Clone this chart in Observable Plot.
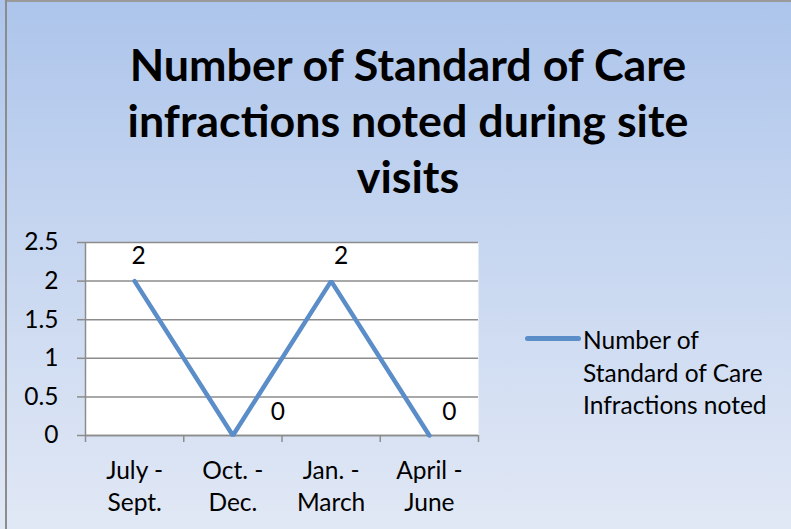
<!DOCTYPE html>
<html>
<head>
<meta charset="utf-8">
<script src="https://cdn.jsdelivr.net/npm/d3@7"></script>
<script src="https://cdn.jsdelivr.net/npm/@observablehq/plot@0.6"></script>
<style>
  html, body { margin: 0; padding: 0; }
  body { width: 791px; height: 529px; overflow: hidden; }
  #chart {
    position: relative; width: 791px; height: 529px;
    background: linear-gradient(to bottom, #adc5eb 0%, #c6d6f0 45%, #e1e8f5 100%);
    font-family: Lato, "Open Sans", sans-serif; color: #000;
  }
  #lborder { position: absolute; left: 5px; top: 0; width: 2px; height: 529px; background: #8c8c8c; }
  #tborder { position: absolute; left: 5px; top: 0; width: 786px; height: 2px; background: #9a9a9a; }
  #title {
    position: absolute; left: 25px; width: 766px; top: 36px;
    text-align: center; font-weight: 700; font-size: 44.8px; line-height: 56px;
  }
  #plotwrap { position: absolute; left: 0; top: 220px; }
  #legend { position: absolute; left: 525px; top: 324px; display: flex; align-items: flex-start; }
  #legend .sw { width: 56px; height: 4.5px; border-radius: 3px; background: #5b8dc8; margin-top: 12px; margin-right: 2px; }
  #legend .tx { font-size: 24.5px; line-height: 32.5px; }
</style>
</head>
<body>
<div id="chart">
  <div id="tborder"></div>
  <div id="lborder"></div>
  <div id="title"></div>
  <div id="plotwrap"></div>
  <div id="legend"><div class="sw"></div><div class="tx"></div></div>
</div>
<script>
// ---- data ----
const titleLines = ["Number of Standard of Care", "infractions noted during site", "visits"];
const categories = ["July -\nSept.", "Oct. -\nDec.", "Jan. -\nMarch", "April -\nJune"];
const values = [2, 0, 2, 0];
const yTicks = [0, 0.5, 1, 1.5, 2, 2.5];
const seriesName = ["Number of", "Standard of Care", "Infractions noted"];

document.getElementById("title").innerHTML = titleLines.join("<br>");
document.querySelector("#legend .tx").innerHTML = seriesName.join("<br>");

const data = values.map((v, i) => ({i, cat: categories[i], v}));
const boundaries = d3.range(categories.length + 1).map(k => k - 0.5);
const gray = "#8c8c8c";
const lineColor = "#5b8dc8";
const fs = 24.5;
// label offsets per point (style, not data)
const labelOffsets = [[4, -25], [45, -23], [10, -25], [20, -23]];

const marks = [
  Plot.frame({fill: "white", stroke: null}),
  Plot.gridY(yTicks, {stroke: gray, strokeOpacity: 1, strokeWidth: 1.5}),
  Plot.ruleY([0], {stroke: gray, strokeWidth: 1.5}),
  Plot.ruleX([boundaries[0]], {stroke: gray, strokeWidth: 1.5}),
  Plot.axisY({ticks: yTicks, tickSize: 8, tickPadding: 19, stroke: gray, strokeWidth: 1.5, fontSize: fs, tickFormat: d => String(d), label: null}),
  Plot.axisX({ticks: boundaries, tickSize: 7, tickFormat: () => "", stroke: gray, strokeWidth: 1.5, label: null}),
  Plot.text(data, {x: "i", text: "cat", frameAnchor: "bottom", lineAnchor: "top", dy: 21, fontSize: fs, lineHeight: 1.3, fill: "black"}),
  Plot.line(data, {x: "i", y: "v", stroke: lineColor, strokeWidth: 4.5, strokeLinecap: "round", strokeLinejoin: "miter"})
];
labelOffsets.forEach(([dx, dy], k) => {
  marks.push(Plot.text(data, {filter: d => d.i === k, x: "i", y: "v", text: d => String(d.v), dx, dy, fontSize: fs, fill: "black"}));
});

const plot = Plot.plot({
  width: 500, height: 309,
  marginLeft: 85, marginRight: 22, marginTop: 22, marginBottom: 94,
  style: {background: "transparent", fontFamily: "Lato, 'Open Sans', sans-serif", color: "black", overflow: "visible"},
  x: {type: "linear", domain: [boundaries[0], boundaries[boundaries.length - 1]]},
  y: {domain: [0, 2.5]},
  marks
});
document.getElementById("plotwrap").appendChild(plot);
</script>
</body>
</html>
